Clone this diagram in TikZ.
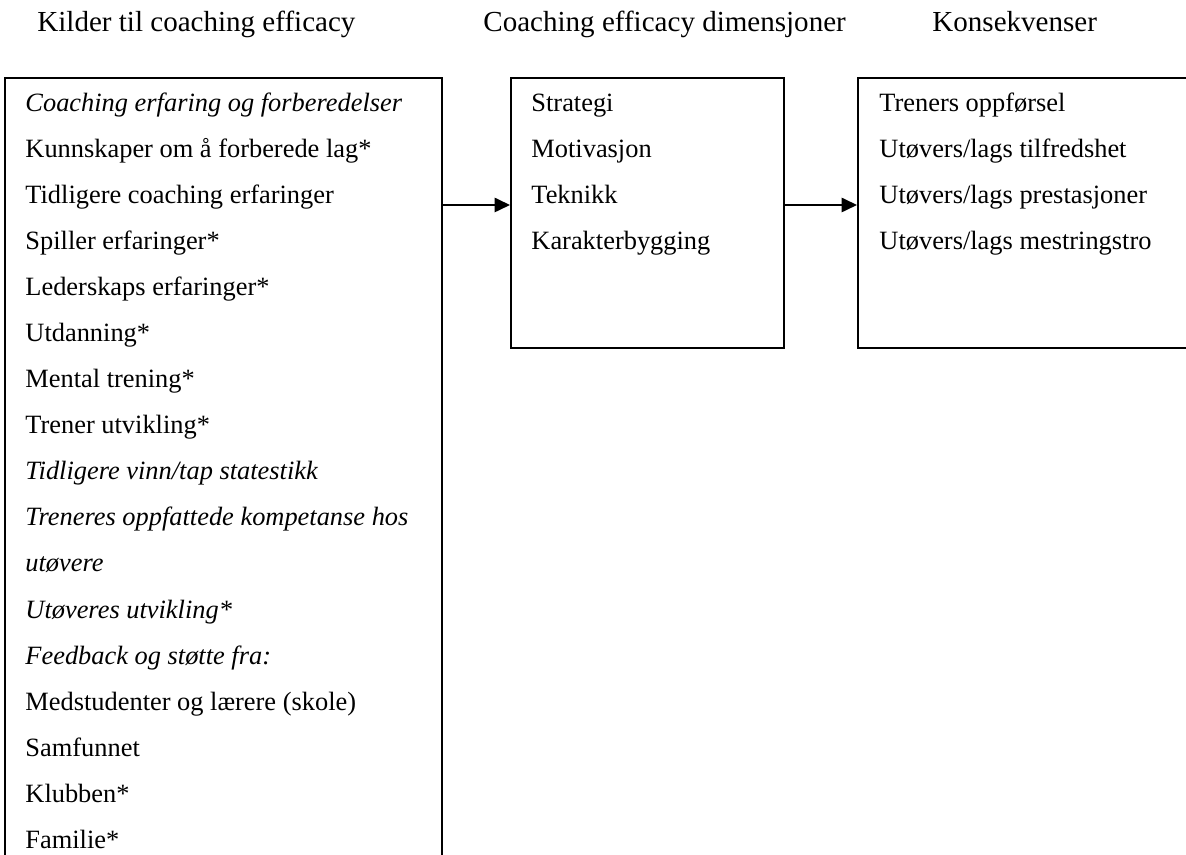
\documentclass[tikz,border=0pt]{standalone}
\usepackage{fontspec}
\setmainfont{Liberation Serif}
\usetikzlibrary{arrows.meta}

\tikzset{
  box/.style={draw, line width=0.9pt, anchor=north west, inner sep=0pt},
  item/.style={anchor=base west, inner sep=0pt, font=\fontsize{12}{14}\selectfont},
  heading/.style={anchor=base west, inner sep=0pt, font=\fontsize{13.2}{15}\selectfont},
  flow/.style={-{Triangle[length=7pt,width=6.5pt]}, line width=0.9pt}
}

\begin{document}
\begin{tikzpicture}[x=0.4545pt, y=-0.4545pt]
    \useasboundingbox (0,0) rectangle (1186,855);
    \clip (0,0) rectangle (1186,855);
    % headings
    \node[heading] (srcTitle) at (37,32) {Kilder til coaching efficacy};
    \node[heading] (dimTitle) at (483,32) {Coaching efficacy dimensjoner};
    \node[heading] (conTitle) at (932,32) {Konsekvenser};
    % boxes
    \node[box, minimum width=437*0.4545pt, minimum height=823*0.4545pt] (sources) at (4,77) {};
    \node[box, minimum width=273*0.4545pt, minimum height=270*0.4545pt] (dims) at (510,77) {};
    \node[box, minimum width=393*0.4545pt, minimum height=270*0.4545pt] (cons) at (857,77) {};
    % box contents
    \foreach \txt [count=\i from 0] in {{\itshape Coaching erfaring og forberedelser},
        Kunnskaper om å forberede lag*, Tidligere coaching erfaringer,
        Spiller erfaringer*, Lederskaps erfaringer*, Utdanning*,
        Mental trening*, Trener utvikling*,
        {\itshape Tidligere vinn/tap statestikk},
        {\itshape Treneres oppfattede kompetanse hos}, {\itshape utøvere},
        {\itshape Utøveres utvikling*}, {\itshape Feedback og støtte fra:},
        Medstudenter og lærere (skole), Samfunnet, Klubben*, Familie*}
        \node[item] (src\i) at (25,112+46*\i) {\txt};
    \foreach \txt [count=\i from 0] in {Strategi, Motivasjon, Teknikk, Karakterbygging}
        \node[item] (dim\i) at (531,112+46*\i) {\txt};
    \foreach \txt [count=\i from 0] in {Treners oppførsel, Utøvers/lags tilfredshet,
        Utøvers/lags prestasjoner, Utøvers/lags mestringstro}
        \node[item] (con\i) at (879,112+46*\i) {\txt};
    % arrows
    \coordinate (row) at (0,205);
    \draw[flow] (sources.east |- row) -- (dims.west |- row);
    \draw[flow] (dims.east |- row) -- (cons.west |- row);
\end{tikzpicture}
\end{document}
